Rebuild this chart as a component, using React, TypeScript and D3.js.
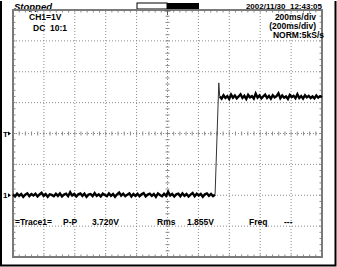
import React from "react";
import * as d3 from "d3";

// ---- data ----
const timeSpanSec = 2; // 200 ms/div x 10 div
const voltRange = [-2, 6]; // 1 V/div x 8 div, ground 2 div below centre
const xDivs = [0, 1, 2, 3, 4, 5, 6, 7, 8, 9, 10];
const yDivs = [0, 1, 2, 3, 4, 5, 6, 7, 8];

const lowLevelV = [
  0.03, -0.04, 0.05, -0.02, 0.04, -0.05, 0.02, 0.06, -0.03, 0.04, -0.01, 0.05, -0.04, 0.03, 0.08, -0.02, 0.04, -0.05, 0.03, 0.01,
  -0.03, 0.05, -0.02, 0.06, -0.04, 0.02, 0.05, -0.03, 0.1, -0.01, 0.04, -0.04, 0.03, 0.06, -0.02, 0.05, -0.05, 0.02, 0.04, -0.03,
  0.07, -0.02, 0.03, -0.04, 0.05, 0.01, -0.03, 0.06, -0.02, 0.04, -0.05, 0.03, 0.09, -0.01, 0.05, -0.03, 0.02, 0.06, -0.04, 0.04,
  -0.02, 0.05, -0.03, 0.03, 0.07, -0.04, 0.02, 0.05, -0.02, 0.04, -0.05, 0.06, 0.01, -0.03, 0.05, -0.02, 0.11, -0.01, 0.04, -0.04,
  0.03, 0.05, -0.03, 0.06, -0.02, 0.04, -0.04, 0.02, 0.07, -0.03, 0.05, -0.01, 0.04, -0.05, 0.03, 0.06, -0.02, 0.04, -0.03, 0.02,
];
const lowEndSec = 1.308;
const edgeT = [1.308, 1.332, 1.338];
const edgeV = [0.02, 3.64, 3.2];
const highStartSec = 1.338;
const highLevelV = [
  3.2, 3.13, 3.24, 3.15, 3.21, 3.12, 3.26, 3.16, 3.23, 3.14, 3.2, 3.27, 3.15, 3.22, 3.12, 3.25, 3.17, 3.21, 3.13, 3.29,
  3.16, 3.23, 3.14, 3.2, 3.26, 3.15, 3.22, 3.13, 3.24, 3.17, 3.21, 3.3, 3.14, 3.23, 3.16, 3.2, 3.12, 3.25, 3.18, 3.22,
  3.14, 3.27, 3.15, 3.21, 3.13, 3.24, 3.17, 3.22, 3.15, 3.2, 3.14, 3.23, 3.16, 3.21, 3.18,
];

const headerLeft = "Stopped";
const headerRight = "2002/11/30  12:43:05";
const chLabels = ["CH1=1V", "DC  10:1"];
const tbLabels = ["200ms/div", "(200ms/div)", "NORM:5kS/s"];
const measure = [
  { text: "=Trace1=", x: 15 },
  { text: "P-P", x: 63 },
  { text: "3.720V", x: 92 },
  { text: "Rms", x: 157 },
  { text: "1.855V", x: 187 },
  { text: "Freq", x: 249 },
  { text: "---", x: 284 },
];

type P = [number, number];

export default function App() {
  const L = 13, R = 322, T = 10, B = 257;
  const x = d3.scaleLinear().domain([0, timeSpanSec]).range([L, R]);
  const y = d3.scaleLinear().domain(voltRange).range([B, T]);
  const gx = d3.scaleLinear().domain([0, 10]).range([L, R]);
  const gy = d3.scaleLinear().domain([0, 8]).range([T, B]);

  const lowPts: P[] = lowLevelV.map((v, i) => [(i / (lowLevelV.length - 1)) * lowEndSec, v]);
  const edgePts: P[] = edgeT.map((t, i) => [t, edgeV[i]]);
  const highPts: P[] = highLevelV.map((v, i) => [
    highStartSec + (i / (highLevelV.length - 1)) * (timeSpanSec - highStartSec),
    v,
  ]);
  const line = d3
    .line<P>()
    .x((d) => x(d[0]))
    .y((d) => y(d[1]));

  const cx = gx(5), cy = gy(4);
  const minorX = d3.range(0, 50.01, 1).map((k) => gx(k / 5));
  const minorY = d3.range(0, 40.01, 1).map((k) => gy(k / 5));
  const font = "'Liberation Sans', Arial, sans-serif";
  const gray = "#8a8a8a";

  return (
    <svg width={337} height={267} style={{ position: "absolute", left: 0, top: 0 }}>
      <rect x={0} y={0} width={337} height={267} fill="#fff" />
      {/* outer black border */}
      <path d="M1,1 V265.5 H335.5 V1" fill="none" stroke="#000" strokeWidth={2} />
      {/* header */}
      <text x={14} y={10} fontFamily={font} fontSize={9.5} fontWeight="bold" fontStyle="italic">
        {headerLeft}
      </text>
      <rect x={137} y={3} width={30} height={6} fill="#fff" stroke="#000" strokeWidth={1} />
      <rect x={167} y={3} width={32} height={6.5} fill="#000" />
      <text x={322} y={9} fontFamily={font} fontSize={8} fontWeight="bold" textAnchor="end" style={{ whiteSpace: "pre" }}>
        {headerRight}
      </text>

      {/* grid */}
      {xDivs.slice(1, -1).map((d) => (
        <line key={"vx" + d} x1={gx(d)} x2={gx(d)} y1={T} y2={B} stroke={gray} strokeWidth={1} strokeDasharray="1,2" />
      ))}
      {yDivs.slice(1, -1).map((d) => (
        <line key={"hy" + d} x1={L} x2={R} y1={gy(d)} y2={gy(d)} stroke={gray} strokeWidth={1} strokeDasharray="1,2" />
      ))}
      {minorX.map((px, i) => (
        <g key={"mx" + i}>
          <line x1={px} x2={px} y1={cy - 2} y2={cy + 2} stroke={gray} />
          <line x1={px} x2={px} y1={T} y2={T + 2.5} stroke={gray} />
          <line x1={px} x2={px} y1={B - 2.5} y2={B} stroke={gray} />
        </g>
      ))}
      {minorY.map((py, i) => (
        <g key={"my" + i}>
          <line x1={cx - 2} x2={cx + 2} y1={py} y2={py} stroke={gray} />
          <line x1={L} x2={L + 2.5} y1={py} y2={py} stroke={gray} />
          <line x1={R - 2.5} x2={R} y1={py} y2={py} stroke={gray} />
        </g>
      ))}
      <rect x={L} y={T} width={R - L} height={B - T} fill="none" stroke="#7a7a7a" strokeWidth={2} />
      {/* trigger position marker */}
      <path d={`M${cx - 3},${T + 1} H${cx + 3} M${cx},${T + 1} V${T + 5}`} stroke="#555" strokeWidth={1} />

      {/* labels */}
      <text x={29} y={20} fontFamily={font} fontSize={8.5} fontWeight="bold">{chLabels[0]}</text>
      <text x={33} y={31} fontFamily={font} fontSize={8.5} fontWeight="bold" style={{ whiteSpace: "pre" }}>{chLabels[1]}</text>
      {tbLabels.map((t, i) => (
        <text key={t} x={i === 2 ? 324 : 316} y={20 + i * 9} fontFamily={font} fontSize={8.5} fontWeight="bold" textAnchor="end">
          {t}
        </text>
      ))}
      {measure.map((m) => (
        <text key={m.text} x={m.x} y={225} fontFamily={font} fontSize={8.5} fontWeight="bold">
          {m.text}
        </text>
      ))}

      {/* left markers */}
      <text x={3} y={y(2) + 3} fontFamily={font} fontSize={8} fontWeight="bold">T</text>
      <path d={`M8,${y(2) - 2} L11,${y(2)} L8,${y(2) + 2} Z`} fill="#000" />
      <text x={3} y={y(0) + 3} fontFamily={font} fontSize={8} fontWeight="bold">1</text>
      <path d={`M8,${y(0) - 2} L11,${y(0)} L8,${y(0) + 2} Z`} fill="#000" />

      {/* trace */}
      <path d={line(lowPts) || ""} fill="none" stroke="#000" strokeWidth={2.4} strokeLinejoin="miter" />
      <path d={line(edgePts) || ""} fill="none" stroke="#333" strokeWidth={1} />
      <path d={line(highPts) || ""} fill="none" stroke="#000" strokeWidth={2.4} strokeLinejoin="miter" />
    </svg>
  );
}
